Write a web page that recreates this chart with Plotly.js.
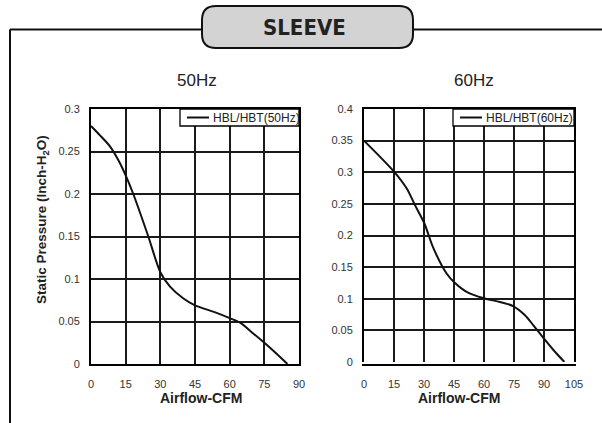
<!DOCTYPE html>
<html>
<head>
<meta charset="utf-8">
<script src="https://cdn.plot.ly/plotly-3.0.1.min.js"></script>
<style>html,body{margin:0;padding:0;background:#fff;}#chart{width:602px;height:423px;}</style>
</head>
<body>
<div id="chart"></div>
<script>
// ---- data ----
const flow50 = [0, 3.9, 8.2, 11.8, 15, 18.3, 24.8, 30, 34.2, 40, 45, 52.9, 60, 64.5, 70.2, 75.4, 80.3, 85];
const press50 = [0.28, 0.269, 0.256, 0.24, 0.222, 0.2, 0.15, 0.108, 0.091, 0.077, 0.069, 0.0616, 0.054, 0.0486, 0.036, 0.024, 0.012, 0];
const flow60 = [0, 15, 21.3, 25.5, 30.2, 34.7, 41.3, 45.5, 51.3, 60, 68, 74.5, 80.5, 84.7, 90, 94.7, 100.2];
const press60 = [0.35, 0.301, 0.2746, 0.248, 0.219, 0.18, 0.14, 0.125, 0.111, 0.1007, 0.095, 0.0885, 0.074, 0.058, 0.037, 0.019, 0];
const seriesNames = ["HBL/HBT(50Hz)", "HBL/HBT(60Hz)"];
const panelTitles = ["50Hz", "60Hz"];
const mainTitle = "SLEEVE";
const xTitle = "Airflow-CFM";
const yTitle = "Static Pressure (Inch-H<sub>2</sub>O)";

const W = 602, H = 423;
const px = x => x / W;
const py = y => 1 - y / H;

const font = "Liberation Sans, Arial, sans-serif";

const traces = [
  {x: flow50, y: press50, name: seriesNames[0], type: 'scatter', mode: 'lines', hoverinfo: 'skip',
   line: {color: '#111', width: 2, shape: 'spline', smoothing: 0.8}, xaxis: 'x', yaxis: 'y', showlegend: false},
  {x: flow60, y: press60, name: seriesNames[1], type: 'scatter', mode: 'lines', hoverinfo: 'skip',
   line: {color: '#111', width: 2, shape: 'spline', smoothing: 0.8}, xaxis: 'x2', yaxis: 'y2', showlegend: false}
];

function xa(domain, range) {
  return {domain: domain, range: range, dtick: 15, tick0: 0, showgrid: true, gridcolor: '#1a1a1a', gridwidth: 2,
    showline: true, mirror: true, linecolor: '#000', linewidth: 2, zeroline: false, ticks: '',
    ticklabelstandoff: 9, tickfont: {family: font, size: 11, color: '#333'}, fixedrange: true};
}
function ya(domain, range, anchor) {
  return {domain: domain, range: range, dtick: 0.05, tick0: 0, showgrid: true, gridcolor: '#1a1a1a', gridwidth: 2,
    showline: true, mirror: true, linecolor: '#000', linewidth: 2, zeroline: false, ticks: '',
    ticklabelstandoff: 7, tickfont: {family: font, size: 11, color: '#333'}, anchor: anchor, fixedrange: true};
}

// rounded title box path (paper coords)
const bx0 = 202, bx1 = 413, by0 = 6, by1 = 48, r = 14;
const boxPath = `M ${px(bx0 + r)} ${py(by0)} L ${px(bx1 - r)} ${py(by0)} Q ${px(bx1)} ${py(by0)} ${px(bx1)} ${py(by0 + r)} ` +
  `L ${px(bx1)} ${py(by1 - r)} Q ${px(bx1)} ${py(by1)} ${px(bx1 - r)} ${py(by1)} L ${px(bx0 + r)} ${py(by1)} ` +
  `Q ${px(bx0)} ${py(by1)} ${px(bx0)} ${py(by1 - r)} L ${px(bx0)} ${py(by0 + r)} Q ${px(bx0)} ${py(by0)} ${px(bx0 + r)} ${py(by0)} Z`;

// hand-drawn legend boxes (box left, box right, top, bottom)
const legends = [
  {x0: 180, x1: 299, y0: 109, y1: 126, name: seriesNames[0]},
  {x0: 453, x1: 574, y0: 109, y1: 126, name: seriesNames[1]}
];
const legendShapes = [];
const legendTexts = [];
legends.forEach(l => {
  legendShapes.push({type: 'rect', xref: 'paper', yref: 'paper', x0: px(l.x0), x1: px(l.x1), y0: py(l.y1), y1: py(l.y0),
    fillcolor: '#fff', line: {color: '#000', width: 1.3}});
  legendShapes.push({type: 'line', xref: 'paper', yref: 'paper', x0: px(l.x0 + 7), x1: px(l.x0 + 29),
    y0: py((l.y0 + l.y1) / 2), y1: py((l.y0 + l.y1) / 2), line: {color: '#111', width: 2}});
  legendTexts.push({text: l.name, xref: 'paper', yref: 'paper', x: px(l.x0 + 31), y: py((l.y0 + l.y1) / 2 + 0.5),
    xanchor: 'left', yanchor: 'middle', showarrow: false, font: {family: font, size: 12, color: '#222'}});
});

const layout = {
  width: W, height: H, margin: {l: 0, r: 0, t: 0, b: 0}, paper_bgcolor: '#fff', plot_bgcolor: '#fff',
  showlegend: false, hovermode: false, dragmode: false,
  xaxis: xa([px(91), px(299)], [0, 90]),
  yaxis: ya([py(364), py(109)], [0, 0.3], 'x'),
  xaxis2: xa([px(364), px(574)], [0, 105]),
  yaxis2: ya([py(362), py(109)], [0, 0.4], 'x2'),
  shapes: [
    {type: 'line', xref: 'paper', yref: 'paper', x0: px(10), x1: px(602), y0: py(29.5), y1: py(29.5), line: {color: '#111', width: 2}},
    {type: 'line', xref: 'paper', yref: 'paper', x0: px(10), x1: px(10), y0: py(29.5), y1: py(423), line: {color: '#111', width: 2}},
    {type: 'path', xref: 'paper', yref: 'paper', path: boxPath, fillcolor: '#d3d3d3', line: {color: '#111', width: 2}}
  ].concat(legendShapes),
  annotations: [
    {text: '<b>' + mainTitle + '</b>', xref: 'paper', yref: 'paper', x: px(304), y: py(28), xanchor: 'center', yanchor: 'middle',
     showarrow: false, font: {family: 'DejaVu Sans Condensed, Liberation Sans Narrow, sans-serif', size: 22, color: '#222'}},
    {text: panelTitles[0], xref: 'paper', yref: 'paper', x: px(197), y: py(80), xanchor: 'center', yanchor: 'middle',
     showarrow: false, font: {family: font, size: 17, color: '#222'}},
    {text: panelTitles[1], xref: 'paper', yref: 'paper', x: px(474), y: py(80), xanchor: 'center', yanchor: 'middle',
     showarrow: false, font: {family: font, size: 17, color: '#222'}},
    {text: '<b>' + yTitle + '</b>', xref: 'paper', yref: 'paper', x: px(42), y: py(220), xanchor: 'center', yanchor: 'middle',
     textangle: -90, showarrow: false, font: {family: font, size: 13.5, color: '#222'}},
    {text: '<b>' + xTitle + '</b>', xref: 'paper', yref: 'paper', x: px(201), y: py(398), xanchor: 'center', yanchor: 'middle',
     showarrow: false, font: {family: font, size: 14, color: '#222'}},
    {text: '<b>' + xTitle + '</b>', xref: 'paper', yref: 'paper', x: px(459), y: py(398), xanchor: 'center', yanchor: 'middle',
     showarrow: false, font: {family: font, size: 14, color: '#222'}}
  ].concat(legendTexts)
};

Plotly.newPlot('chart', traces, layout, {displayModeBar: false, scrollZoom: false});
</script>
</body>
</html>
